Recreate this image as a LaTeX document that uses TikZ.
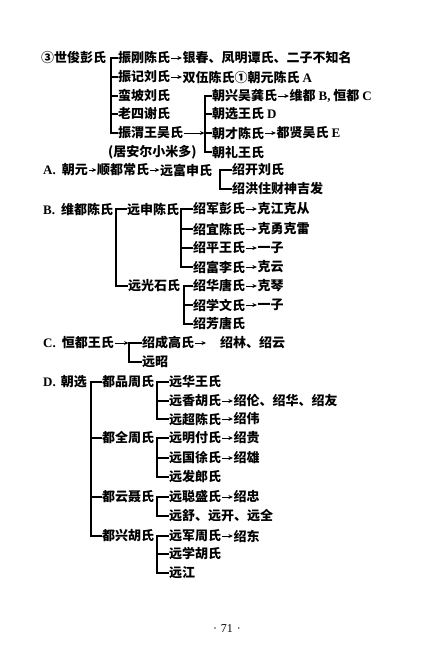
\documentclass[tikz,border=0pt]{standalone}
\usepackage{fontspec}
\setmainfont{Noto Sans CJK SC}
\newfontfamily\latfont{Liberation Serif}
\usetikzlibrary{arrows.meta, positioning}
\newcommand{\latn}[1]{{\latfont\bfseries #1}}

\tikzset{
  person/.style={anchor=west, inner sep=0pt, font=\fontsize{13}{15}\selectfont\bfseries},
  arr/.style={-{Stealth[length=4.5pt,width=4pt]}, line width=0.9pt, shorten <=0.5pt, shorten >=0.5pt},
  brk/.style={line width=1.2pt},
}

\begin{document}
\begin{tikzpicture}[x=1pt,y=-1pt]
	\useasboundingbox (0,0) rectangle (436,650);
	
	% shijun and his wives
	\node[person] (shi) at (41,58) {③世俊彭氏};
	\node[person] (zg) at (118,58) {振刚陈氏};
	\node[person, right=12pt of zg] (zgk) {银春、凤明谭氏、二子不知名};
	\node[person] (zj) at (118,77) {振记刘氏};
	\node[person, right=12pt of zj] (sw) {双伍陈氏①朝元陈氏 \latn{A}};
	\node[person] (mp) at (118,96) {蛮坡刘氏};
	\node[person] (ls) at (118,114) {老四谢氏};
	\node[person] (zw) at (118,133) {振渭王吴氏};
	\node[person] (ja) at (108,152) {(居安尔小米多)};
	
	\node[person] (cx) at (212,96) {朝兴吴龚氏};
	\node[person, right=12pt of cx] (cxk) {维都 \latn{B,} 恒都 \latn{C}};
	\node[person] (cxw) at (212,114) {朝选王氏 \latn{D}};
	\node[person] (cc) at (212,133) {朝才陈氏};
	\node[person, right=12pt of cc] (dx) {都贤吴氏 \latn{E}};
	\node[person] (cl) at (212,152) {朝礼王氏};
	
	\draw[brk] (zg.west) -- ++(-7,0) |- (zw.west);
	\foreach \c in {zj,mp,ls}
		\draw[brk] (\c.west) -- ++(-7,0);
	\draw[brk] (cx.west) -- ++(-7,0) |- (cl.west);
	\draw[brk] (cxw.west) -- ++(-7,0);
	\draw[brk] (cc.west) -- ++(-7,0) coordinate (zwj);
	\draw[arr] (zw.east) -- (zwj);
	
	% A
	\node[person] (ay) at (43,170) {\latn{A.}\hspace{6pt}朝元};
	\node[person] (sd) at (97,170) {顺都常氏};
	\node[person] (yf) at (160,170) {远富申氏};
	\node[person] (sk) at (232,170) {绍开刘氏};
	\node[person] (sh) at (232,189) {绍洪住财神吉发};
	\draw[brk] (sk.west) -- ++(-12,0) |- (sh.west);
	
	% B
	\node[person] (wd) at (43,209) {\latn{B.}\hspace{6pt}维都陈氏};
	\node[person] (ys) at (127,209) {远申陈氏};
	\node[person] (sj) at (193,209) {绍军彭氏};
	\node[person, right=12pt of sj] (kj) {克江克从};
	\node[person] (sy) at (193,229) {绍宜陈氏};
	\node[person, right=12pt of sy] (ky) {克勇克雷};
	\node[person] (sp) at (193,248) {绍平王氏};
	\node[person, right=12pt of sp] (yz1) {一子};
	\node[person] (sf) at (193,267) {绍富李氏};
	\node[person, right=12pt of sf] (kyu) {克云};
	\node[person] (yg) at (128,286) {远光石氏};
	\node[person] (shu) at (193,286) {绍华唐氏};
	\node[person, right=12pt of shu] (kq) {克琴};
	\node[person] (sx) at (193,305) {绍学文氏};
	\node[person, right=12pt of sx] (yz2) {一子};
	\node[person] (sfa) at (193,324) {绍芳唐氏};
	
	\draw[brk] (ys.west) -- ++(-11,0) |- (yg.west);
	\draw[brk] (sj.west) -- ++(-12,0) |- (sf.west);
	\foreach \c in {sy,sp}
		\draw[brk] (\c.west) -- ++(-12,0);
	\draw[brk] (shu.west) -- ++(-9,0) |- (sfa.west);
	\draw[brk] (sx.west) -- ++(-9,0);
	
	% C
	\node[person] (hd) at (43,343) {\latn{C.}\hspace{6pt}恒都王氏};
	\node[person] (scg) at (142,343) {绍成高氏};
	\node[person] (slz) at (220,343) {绍林、绍云};
	\node[person] (yzh) at (142,362) {远昭};
	\draw[brk] (scg.west) -- ++(-13,0) coordinate (hdj) |- (yzh.west);
	\draw[arr] (hd.east) -- (hdj);
	\draw[arr, shorten >=14pt] (scg) -- (slz);
	
	% D
	\node[person] (cxd) at (43,382) {\latn{D.}\hspace{5pt}朝选};
	\node[person] (dp) at (102,382) {都品周氏};
	\node[person] (yh) at (169,382) {远华王氏};
	\node[person] (yx) at (169,401) {远香胡氏};
	\node[person, right=12pt of yx] (sl) {绍伦、绍华、绍友};
	\node[person] (yc) at (169,419) {远超陈氏};
	\node[person, right=12pt of yc] (sw2) {绍伟};
	\node[person] (dq) at (102,438) {都全周氏};
	\node[person] (ym) at (169,438) {远明付氏};
	\node[person, right=12pt of ym] (sgu) {绍贵};
	\node[person] (ygx) at (169,458) {远国徐氏};
	\node[person, right=12pt of ygx] (sxi) {绍雄};
	\node[person] (yfa) at (169,477) {远发郎氏};
	\node[person] (dy) at (102,497) {都云聂氏};
	\node[person] (yco) at (169,497) {远聪盛氏};
	\node[person, right=12pt of yco] (szh) {绍忠};
	\node[person] (ysh) at (169,516) {远舒、远开、远全};
	\node[person] (dxh) at (102,536) {都兴胡氏};
	\node[person] (yj) at (169,536) {远军周氏};
	\node[person, right=12pt of yj] (sdo) {绍东};
	\node[person] (yxu) at (169,554) {远学胡氏};
	\node[person] (yjg) at (169,573) {远江};
	
	\draw[brk] (dp.west) -- ++(-11,0) |- (dxh.west);
	\foreach \c in {dq,dy}
		\draw[brk] (\c.west) -- ++(-11,0);
	\draw[brk] (yh.west) -- ++(-12,0) |- (yc.west);
	\draw[brk] (yx.west) -- ++(-12,0);
	\draw[brk] (ym.west) -- ++(-12,0) |- (yfa.west);
	\draw[brk] (ygx.west) -- ++(-12,0);
	\draw[brk] (yco.west) -- ++(-12,0) |- (ysh.west);
	\draw[brk] (yj.west) -- ++(-12,0) |- (yjg.west);
	\draw[brk] (yxu.west) -- ++(-12,0);
	
	% arrows
	\foreach \a/\b in {zg/zgk, zj/sw, cx/cxk, cc/dx, ay/sd, sd/yf, sj/kj, sy/ky, sp/yz1, sf/kyu,
		shu/kq, sx/yz2, yx/sl, yc/sw2, ym/sgu, ygx/sxi, yco/szh, yj/sdo}
		\draw[arr] (\a) -- (\b);
	
	\node[font=\fontsize{12}{14}\selectfont\latfont] (pg) at (227,629) {·\hspace{4pt}71\hspace{4pt}·};
\end{tikzpicture}
\end{document}
